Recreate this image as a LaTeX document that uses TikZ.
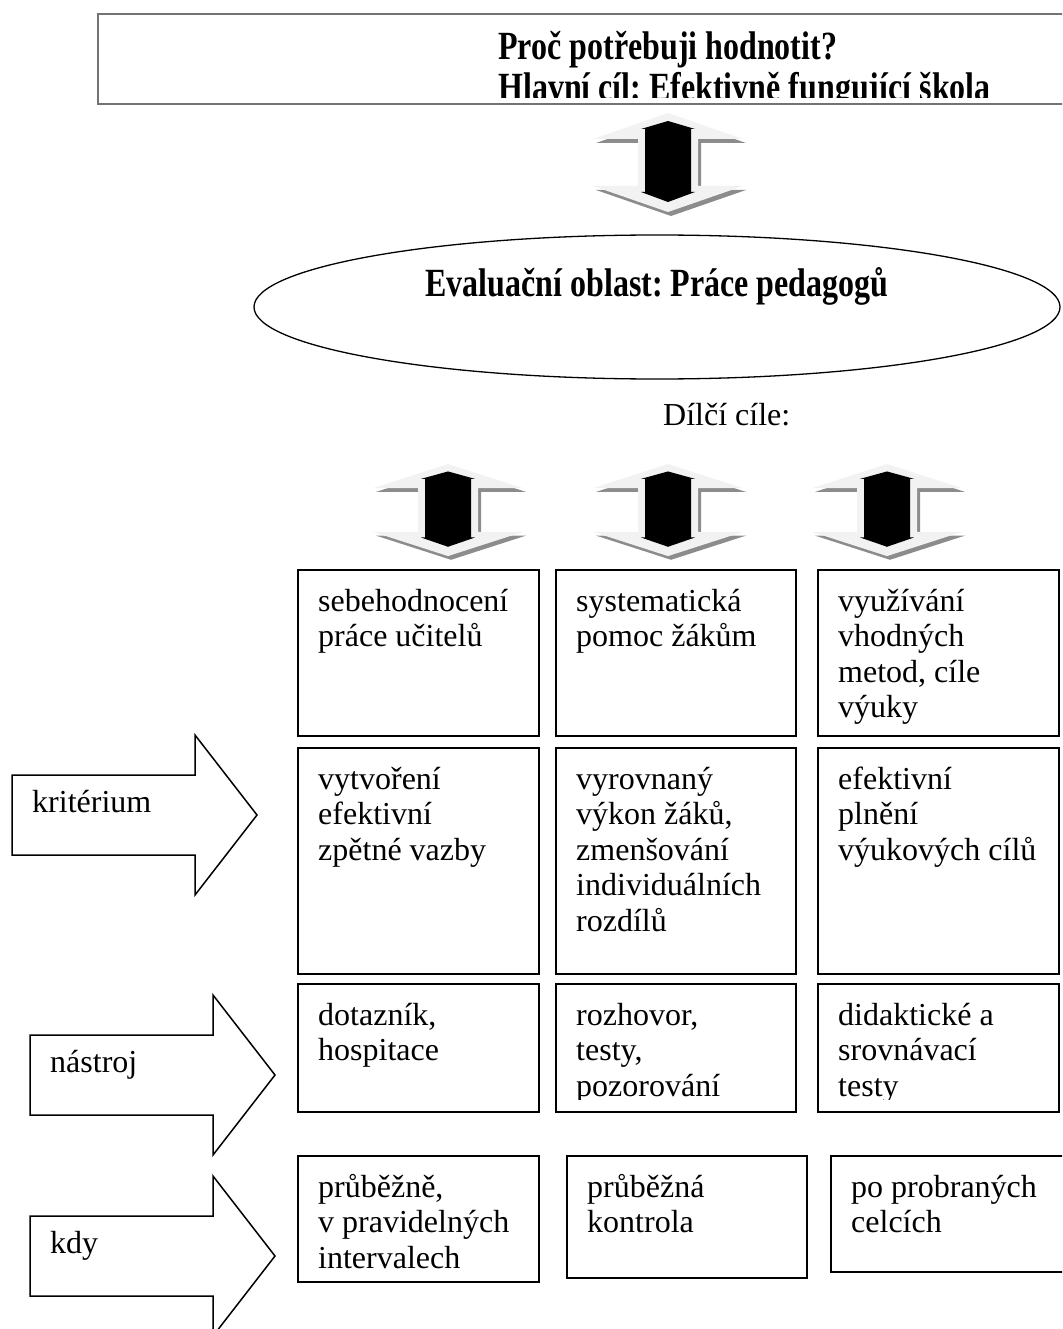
\documentclass[tikz,border=0pt]{standalone}
\usepackage{fontspec}
\setmainfont{Liberation Serif}
\newfontfamily\narrowfont[FakeStretch=0.8]{Liberation Serif}
\usetikzlibrary{shapes.geometric,calc}
\frenchspacing

% double block arrow: centre x, top y, y-scale
\newcommand{\updown}[3]{%
  \begin{scope}[shift={(#1,#2)},yscale=#3]
    \fill[arrowshade] (3,4) -- (78,30) -- (33,30) -- (33,77) -- (78,77) -- (3,103)
      -- (-72,77) -- (-27,77) -- (-27,30) -- (-72,30) -- cycle;
    \fill[arrowlight] (0,0) -- (75,26) -- (30,26) -- (30,73) -- (75,73) -- (0,99)
      -- (-75,73) -- (-30,73) -- (-30,26) -- (-75,26) -- cycle;
    \fill (0,8) -- (27,16) -- (23,16) -- (23,79) -- (27,79) -- (0,89)
      -- (-27,79) -- (-23,79) -- (-23,16) -- (-27,16) -- cycle;
  \end{scope}}
% one table cell: name, x, y, width, height
\newcommand{\cell}[5]{%
  \node[cellbox, minimum width=#4, minimum height=#5] (#1) at (#2,#3) {};}
\newcommand{\celltxt}[2]{%
  \node[celltext] (#1t) at ($(#1.north west)+(21,17.15)$) {\strut #2};}
% side arrow: name, left x, middle y, text
\newcommand{\sidearrow}[4]{%
  \draw[arrowline] (#2,#3-40) -- ++(183,0) -- ++(0,-40) -- ++(62,80) -- ++(-62,80)
    -- ++(0,-40) -- ++(-183,0) -- cycle;
  \node[sidetext] (#1) at (#2+20,#3-3) {#4};}

\begin{document}
\begin{tikzpicture}[x=1pt,y=-1pt,
    arrowlight/.style={fill=black!5},
    arrowshade/.style={fill=black!45},
    arrowline/.style={draw, line width=1.5pt, line join=miter},
    cellbox/.style={draw, line width=1.8pt, anchor=north west, inner sep=0pt},
    celltext/.style={anchor=north west, inner sep=0pt, align=left,
      font=\fontsize{32}{35.5}\selectfont},
    sidetext/.style={anchor=base west, inner sep=0pt,
      font=\fontsize{32}{35.5}\selectfont},
    boldtext/.style={inner sep=0pt, align=left,
      font=\narrowfont\bfseries\fontsize{40}{38}\selectfont}]
\useasboundingbox (0,0) rectangle (1062,1329);
\clip (0,0) rectangle (1062,1329);

% main goal
\node[draw=black!55, line width=2pt, anchor=north west, minimum width=980,
  minimum height=90] (head) at (97,13) {};
\begin{scope}
  \clip (97,13) rectangle (1070,98);
  \node[boldtext, anchor=north west] (headt) at (498,31.4)
    {\strut Proč potřebuji hodnotit?\\Hlavní cíl: Efektivně fungující škola};
\end{scope}
\updown{668}{113}{1}

% evaluation area
\node[draw, ellipse, line width=1.3pt, minimum width=806, minimum height=144] (area) at (657,307) {};
\node[boldtext, anchor=base] (areat) at (657,297) {Evaluační oblast: Práce pedagogů};
\node[sidetext] (part) at (663,425) {Dílčí cíle:};

\foreach \cx in {448,668,887} {\updown{\cx}{464}{0.93}}

% table
\cell{a1}{297}{569}{241}{166}
\cell{b1}{555}{569}{240}{166}
\cell{c1}{817}{569}{241}{166}
\cell{a2}{297}{747}{241}{226}
\cell{b2}{555}{747}{240}{226}
\cell{c2}{817}{747}{241}{226}
\cell{a3}{297}{983}{241}{128}
\cell{b3}{555}{983}{240}{128}
\cell{c3}{817}{983}{241}{128}
\cell{a4}{297}{1155}{241}{126}
\cell{b4}{566}{1155}{240}{122}
\cell{c4}{830}{1155}{240}{116}

\celltxt{a1}{sebehodnocení\\práce učitelů}
\celltxt{b1}{systematická\\pomoc žákům}
\celltxt{c1}{využívání\\vhodných\\metod, cíle\\výuky}
\celltxt{a2}{vytvoření\\efektivní\\zpětné vazby}
\celltxt{b2}{vyrovnaný\\výkon žáků,\\zmenšování\\individuálních\\rozdílů}
\celltxt{c2}{efektivní\\plnění\\výukových cílů}
\begin{scope}
  \clip (297,983) rectangle (1062,1099);
  \celltxt{a3}{dotazník,\\hospitace}
  \celltxt{b3}{rozhovor,\\testy,\\pozorování}
  \celltxt{c3}{didaktické a\\srovnávací\\testy}
\end{scope}
\celltxt{a4}{průběžně,\\v pravidelných\\intervalech}
\celltxt{b4}{průběžná\\kontrola}
\celltxt{c4}{po probraných\\celcích}

% row labels
\sidearrow{crit}{12}{815}{kritérium}
\sidearrow{tool}{30}{1075}{nástroj}
\sidearrow{when}{30}{1256}{kdy}
\end{tikzpicture}
\end{document}
